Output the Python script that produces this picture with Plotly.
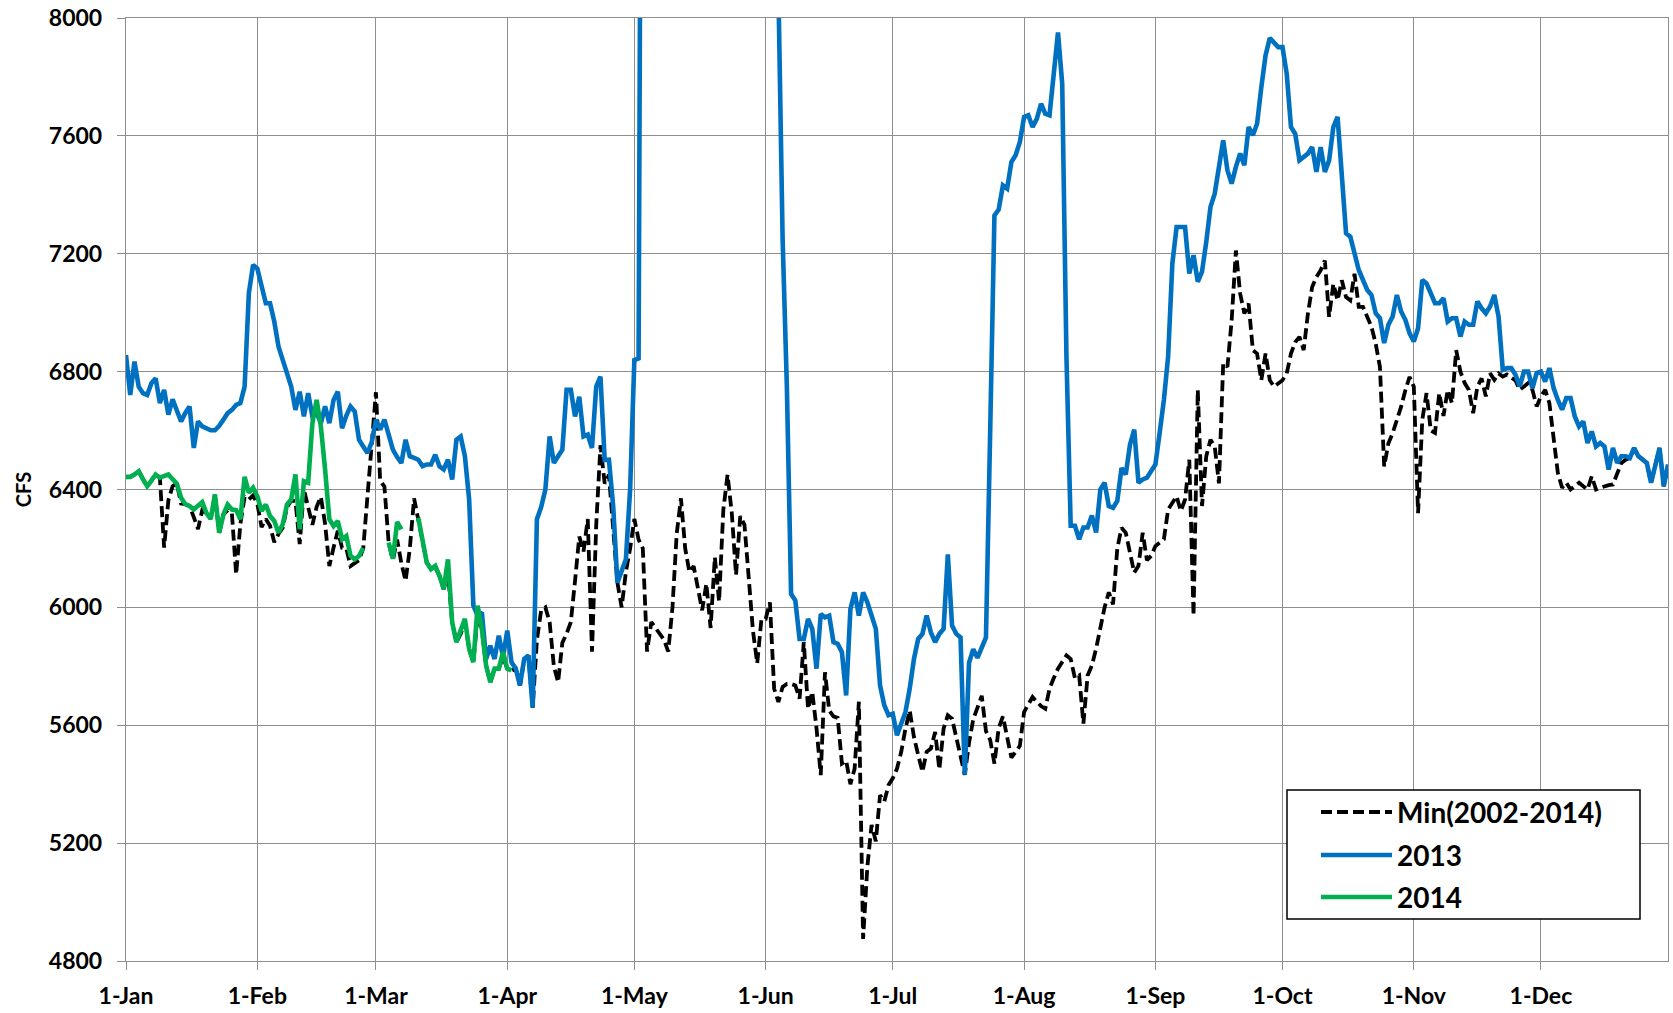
import datetime as dt
import plotly.graph_objects as go

# ---------------- data (daily values, day 0 = 1-Jan) ----------------
start_date = "2013-01-01"

min_2002_2014 = [
    6443, 6443, 6451, 6462, 6435, 6411, 6430, 6451, 6440, 6203,
    6363, 6411, 6420, 6352, 6350, 6344, 6306, 6266, 6330, 6320,
    6300, 6383, 6253, 6315, 6330, 6318, 6112, 6283, 6375, 6366,
    6380, 6352, 6272, 6300, 6277, 6221, 6249, 6270, 6340, 6363,
    6360, 6215, 6400, 6335, 6280, 6341, 6375, 6283, 6140, 6203,
    6260, 6202, 6200, 6140, 6150, 6160, 6200, 6380, 6560, 6730,
    6430, 6410, 6220, 6160, 6230, 6150, 6090, 6200, 6370, 6300,
    6231, 6152, 6130, 6135, 6107, 6062, 6120, 5949, 5882, 5910,
    5950, 5859, 5814, 5972, 5927, 5803, 5746, 5792, 5792, 5831,
    5792, 5786, 5792, 5735, 5825, 5837, 5660, 5890, 5990, 6000,
    5950, 5800, 5746, 5880, 5910, 5950, 6090, 6240, 6190, 6300,
    5850, 6280, 6550, 6420, 6450, 6250, 6084, 6000, 6120, 6200,
    6300, 6230, 6200, 5850, 5950, 5930, 5910, 5890, 5850, 6000,
    6250, 6370, 6200, 6120, 6140, 6060, 5990, 6080, 5930, 6170,
    6020, 6330, 6450, 6320, 6110, 6310, 6280, 6100, 5920, 5810,
    5960, 5961, 6017, 5724, 5679, 5730, 5740, 5740, 5735, 5690,
    5882, 5656, 5713, 5590, 5431, 5780, 5650, 5630, 5625, 5470,
    5480, 5400, 5453, 5680, 4875, 5120, 5262, 5206, 5363, 5341,
    5397, 5420, 5453, 5510, 5589, 5650, 5560, 5499, 5442, 5510,
    5521, 5577, 5450, 5589, 5634, 5622, 5555, 5487, 5432, 5540,
    5620, 5660, 5700, 5580, 5550, 5470, 5590, 5630, 5560, 5490,
    5510, 5530, 5645, 5668, 5696, 5680, 5665, 5656, 5724, 5760,
    5792, 5815, 5837, 5825, 5760, 5769, 5606, 5769, 5803, 5860,
    5938, 6000, 6051, 6010, 6200, 6270, 6253, 6186, 6118, 6141,
    6253, 6160, 6175, 6208, 6220, 6231, 6332, 6355, 6377, 6327,
    6366, 6501, 5972, 6738, 6344, 6513, 6569, 6546, 6421, 6828,
    6816, 6974, 7211, 7065, 6997, 7031, 6873, 6861, 6771, 6861,
    6771, 6749, 6760, 6771, 6794, 6861, 6900, 6918, 6873, 6997,
    7087, 7121, 7144, 7177, 6986, 7098, 7042, 7110, 7053, 7042,
    7132, 7020, 7020, 6986, 6952, 6895, 6816, 6478, 6557, 6591,
    6636, 6681, 6737, 6782, 6749, 6320, 6637, 6727, 6600, 6592,
    6727, 6650, 6738, 6693, 6873, 6800, 6761, 6738, 6659, 6749,
    6777, 6716, 6794, 6772, 6794, 6783, 6790, 6780, 6770, 6738,
    6750, 6761, 6738, 6682, 6716, 6738, 6693, 6560, 6456, 6406,
    6423, 6400, 6411, 6423, 6411, 6400, 6445, 6400, 6406, 6411,
    6415, 6417, 6456, 6490, 6501, 6507, 6541, 6513, 6502, 6490,
    6423, 6479, 6541, 6411, 6485,
]

flow_2013 = [
    6856, 6721, 6834, 6749, 6727, 6721, 6761, 6777, 6693, 6738,
    6654, 6706, 6668, 6631, 6660, 6682, 6541, 6631, 6614, 6607,
    6601, 6601, 6616, 6637, 6659, 6670, 6687, 6693, 6749, 7066,
    7162, 7150, 7088, 7032, 7032, 6970, 6885, 6839, 6783, 6749,
    6670, 6732, 6648, 6727, 6648, 6660, 6625, 6682, 6625, 6704,
    6732, 6608, 6650, 6682, 6665, 6569, 6546, 6524, 6560, 6637,
    6603, 6637, 6586, 6535, 6510, 6490, 6569, 6513, 6507, 6501,
    6479, 6485, 6485, 6518, 6479, 6468, 6501, 6434, 6569, 6580,
    6513, 6366, 6006, 5972, 5983, 5825, 5870, 5825, 5904, 5831,
    5921, 5814, 5792, 5735, 5825, 5837, 5660, 6299, 6340, 6400,
    6580, 6490, 6513, 6535, 6738, 6738, 6648, 6715, 6580, 6586,
    6541, 6749, 6783, 6500, 6501, 6344, 6084, 6130, 6163, 6400,
    6839, 6845, 10500,
    None, None, None, None, None, None, None, None, None, None,
    None, None, None, None, None, None, None, None, None, None,
    None, None, None, None, None, None, None, None, None, None,
    10500, 8100, 7250, 6750, 6045, 6023, 5893,
    5893, 5961, 5927, 5792, 5977, 5966, 5972, 5882, 5876, 5848,
    5701, 5994, 6051, 5972, 6051, 6017, 5972, 5927, 5735, 5668,
    5634, 5639, 5566, 5611, 5645, 5724, 5825, 5893, 5910, 5972,
    5915, 5882, 5910, 5927, 6180, 5938, 5910, 5898, 5432, 5812,
    5858, 5829, 5863, 5898, 6600, 7330, 7350, 7432, 7421, 7511,
    7534, 7579, 7664, 7670, 7630, 7658, 7709, 7675, 7670, 7810,
    7951, 7777, 6850, 6277, 6277, 6231, 6271, 6271, 6312, 6254,
    6400, 6423, 6344, 6338, 6361, 6473, 6451, 6552, 6603, 6423,
    6434, 6440, 6460, 6485, 6592, 6704, 6851, 7167, 7291, 7291,
    7291, 7133, 7195, 7105, 7139, 7240, 7359, 7404, 7489, 7585,
    7483, 7438, 7495, 7540, 7500, 7630, 7602, 7641, 7765, 7873,
    7932, 7918, 7901, 7901, 7810, 7630, 7607, 7517, 7528, 7540,
    7562, 7478, 7562, 7478, 7517, 7630, 7664, 7450, 7269, 7258,
    7207, 7145, 7111, 7077, 7060, 6998, 6981, 6897, 6959, 6987,
    7060, 7004, 6976, 6930, 6902, 6947, 7111, 7099, 7066, 7032,
    7032, 7049, 6970, 6981, 6981, 6919, 6970, 6959, 6959, 7038,
    7015, 6998, 7021, 7060, 6987, 6806, 6812, 6812, 6789, 6750,
    6800, 6800, 6744, 6795, 6800, 6766, 6812, 6744, 6704, 6671,
    6710, 6710, 6648, 6614, 6631, 6558, 6597, 6546, 6558, 6546,
    6468, 6541, 6490, 6513, 6513, 6507, 6541, 6513, 6502, 6490,
    6423, 6479, 6541, 6411, 6485,
]

flow_2014 = [
    6443, 6443, 6451, 6462, 6435, 6411, 6430, 6451, 6440, 6445,
    6451, 6435, 6420, 6372, 6350, 6344, 6332, 6345, 6357, 6320,
    6300, 6383, 6253, 6315, 6349, 6332, 6330, 6299, 6443, 6389,
    6406, 6377, 6327, 6349, 6310, 6293, 6253, 6282, 6349, 6366,
    6451, 6265, 6428, 6423, 6625, 6704, 6614, 6468, 6299, 6276,
    6293, 6231, 6242, 6175, 6163, 6174, 6202, None, None, None,
    None, None, 6220, 6165, 6290, 6265, None, None, None, 6304,
    6231, 6152, 6130, 6141, 6107, 6062, 6163, 5949, 5882, 5927,
    5961, 5859, 5814, 6006, 5927, 5803, 5746, 5792, 5792, 5848,
    5792, 5786,
]

month_ticks = ["2013-01-01", "2013-02-01", "2013-03-01", "2013-04-01",
               "2013-05-01", "2013-06-01", "2013-07-01", "2013-08-01",
               "2013-09-01", "2013-10-01", "2013-11-01", "2013-12-01"]
month_labels = ["1-Jan", "1-Feb", "1-Mar", "1-Apr", "1-May", "1-Jun",
                "1-Jul", "1-Aug", "1-Sep", "1-Oct", "1-Nov", "1-Dec"]

series_names = ["Min(2002-2014)", "2013", "2014"]
colors = ["#000000", "#0070C0", "#00B050"]

# ---------------- figure ----------------
base = dt.date.fromisoformat(start_date)


def dates(n):
    return [base + dt.timedelta(days=i) for i in range(n)]


FONT = "Lato"
W, H = 1673, 1013
ML, MR, MT, MB = 126, 5, 18, 52
PW, PH = W - ML - MR, H - MT - MB

fig = go.Figure()
fig.add_trace(go.Scatter(x=dates(len(min_2002_2014)), y=min_2002_2014, mode="lines",
                         name=series_names[0], showlegend=False,
                         line=dict(color=colors[0], width=3.8, dash="11px,5px")))
fig.add_trace(go.Scatter(x=dates(len(flow_2013)), y=flow_2013, mode="lines",
                         name=series_names[1], showlegend=False, connectgaps=False,
                         line=dict(color=colors[1], width=4.6)))
fig.add_trace(go.Scatter(x=dates(len(flow_2014)), y=flow_2014, mode="lines",
                         name=series_names[2], showlegend=False, connectgaps=False,
                         line=dict(color=colors[2], width=4.6)))

grid = "#8e8e8e"
fig.update_xaxes(type="date", range=["2013-01-01", "2013-12-31"],
                 tickvals=month_ticks, ticktext=month_labels,
                 showgrid=True, gridcolor=grid, gridwidth=1.4,
                 showline=True, linecolor=grid, linewidth=1.4, mirror=True,
                 ticks="outside", ticklen=8, tickcolor=grid, tickwidth=1.4,
                 ticklabelstandoff=6,
                 tickfont=dict(family=FONT, size=23, color="black", weight="bold"),
                 zeroline=False)
fig.update_yaxes(range=[4800, 8000], dtick=400, tick0=4800, tickformat="d",
                 showgrid=True, gridcolor=grid, gridwidth=1.4,
                 showline=True, linecolor=grid, linewidth=1.4, mirror=True,
                 ticks="outside", ticklen=8, tickcolor=grid, tickwidth=1.4,
                 ticklabelstandoff=10,
                 tickfont=dict(family=FONT, size=23, color="black", weight="bold"),
                 title=dict(text="CFS", standoff=11,
                            font=dict(family=FONT, size=20, color="black", weight="bold")),
                 zeroline=False)

# ---- legend box (drawn in pixel positions converted to paper coords) ----
def px(x):
    return (x - ML) / PW


def py(y):
    return (H - MB - y) / PH


shapes = [dict(type="rect", xref="paper", yref="paper", layer="above",
               x0=px(1287), x1=px(1640), y0=py(919), y1=py(790),
               fillcolor="white", line=dict(color="black", width=1.5))]
annotations = []
rows = [812, 855, 897]
dashes = ["11px,5px", "solid", "solid"]
widths = [3.8, 4.6, 4.6]
for name, col, yy, ds, wd in zip(series_names, colors, rows, dashes, widths):
    shapes.append(dict(type="line", xref="paper", yref="paper", layer="above",
                       x0=px(1321), x1=px(1392), y0=py(yy), y1=py(yy),
                       line=dict(color=col, width=wd, dash=ds)))
    annotations.append(dict(xref="paper", yref="paper", x=px(1395), y=py(yy),
                            xanchor="left", yanchor="middle", showarrow=False,
                            text=name,
                            font=dict(family=FONT, size=28, color="black", weight="bold")))

fig.update_layout(width=W, height=H,
                  margin=dict(l=ML, r=MR, t=MT, b=MB, autoexpand=False),
                  paper_bgcolor="white", plot_bgcolor="white",
                  showlegend=False, shapes=shapes, annotations=annotations,
                  font=dict(family=FONT))

fig.write_html("out.html", config={"displayModeBar": False},
               post_script="document.body.style.margin='0';document.body.style.overflow='hidden';")
